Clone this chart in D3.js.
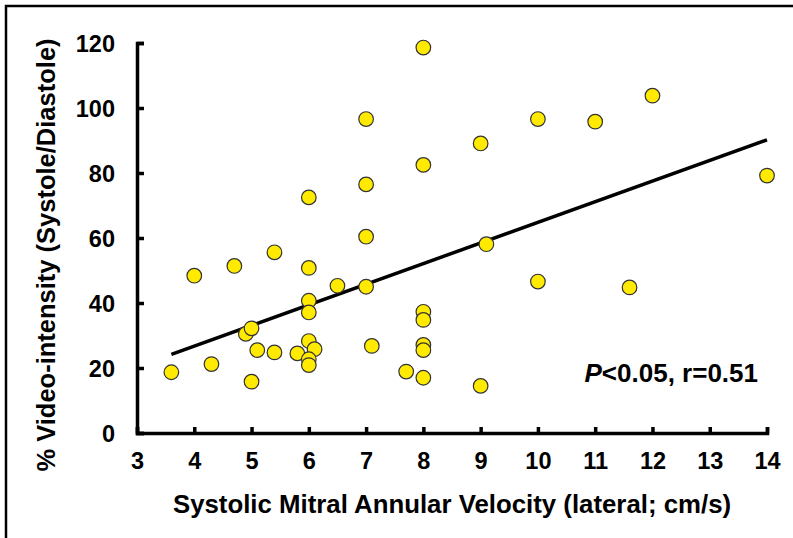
<!DOCTYPE html>
<html>
<head>
<meta charset="utf-8">
<script src="https://cdn.jsdelivr.net/npm/d3@7"></script>
<style>
  body { margin: 0; background: #fff; }
  svg { display: block; font-family: "Liberation Sans", Arial, sans-serif; }
</style>
</head>
<body>
<svg id="chart" width="793" height="538"></svg>
<script>
// velocity (cm/s) vs % video-intensity
var velocity = [3.6, 4.0, 4.3, 4.7, 4.9, 5.0, 5.0, 5.1, 5.4, 5.4, 5.8,
  6.0, 6.0, 6.0, 6.0, 6.0, 6.1, 6.0, 6.0, 6.5,
  7.0, 7.0, 7.0, 7.0, 7.1, 7.7,
  8.0, 8.0, 8.0, 8.0, 8.0, 8.0, 8.0,
  9.0, 9.1, 9.0, 10.0, 10.0, 11.0, 11.6, 12.0, 14.0];
var intensity = [18.7, 48.4, 21.2, 51.4, 30.5, 32.2, 15.8, 25.5, 55.6, 24.8, 24.5,
  72.5, 50.8, 40.7, 37.1, 28.3, 25.8, 22.7, 20.9, 45.3,
  96.6, 76.5, 60.4, 45.0, 26.8, 18.9,
  118.6, 82.5, 37.3, 34.8, 27.1, 25.5, 17.0,
  89.1, 58.1, 14.5, 96.6, 46.6, 95.8, 44.8, 103.8, 79.2];

// regression line ends
var fitX = [3.6, 14];
var fitY = [24.2, 90.2];

var xTicks = [3, 4, 5, 6, 7, 8, 9, 10, 11, 12, 13, 14];
var yTicks = [0, 20, 40, 60, 80, 100, 120];

var svg = d3.select("#chart");

// frame (only top and left edges visible in the figure)
svg.append("path")
    .attr("d", "M6,538V6H793")
    .attr("fill", "none")
    .attr("stroke", "#000")
    .attr("stroke-width", 2.5);

var x = d3.scaleLinear().domain([3, 14]).range([137, 767]);
var y = d3.scaleLinear().domain([0, 120]).range([433, 43]);

var xAxis = svg.append("g")
    .attr("transform", "translate(0,433)")
    .call(d3.axisBottom(x).tickValues(xTicks).tickSizeInner(-6).tickSizeOuter(-6).tickPadding(20));

var yAxis = svg.append("g")
    .attr("transform", "translate(137,0)")
    .call(d3.axisLeft(y).tickValues(yTicks).tickSizeInner(-7).tickSizeOuter(-7).tickPadding(22));

[xAxis, yAxis].forEach(function(g){
  g.attr("font-family", null).attr("font-size", null);
  g.select(".domain").attr("stroke", "#000").attr("stroke-width", 3.5);
  g.selectAll(".tick line").attr("stroke", "#000").attr("stroke-width", 3.5);
  g.selectAll(".tick text")
    .attr("fill", "#000")
    .style("font-size", "23.5px")
    .style("font-weight", "bold");
});
xAxis.selectAll(".tick text").attr("y", 19).attr("dy", "0.71em");
yAxis.selectAll(".tick text").attr("dy", "0.36em");

// fit line
svg.append("line")
    .attr("x1", x(fitX[0])).attr("y1", y(fitY[0]))
    .attr("x2", x(fitX[1])).attr("y2", y(fitY[1]))
    .attr("stroke", "#000")
    .attr("stroke-width", 3.5);

// points
svg.append("g")
  .selectAll("circle")
    .data(velocity.map(function(v, i){ return {x: v, y: intensity[i]}; }))
  .enter().append("circle")
    .attr("cx", function(d){ return x(d.x); })
    .attr("cy", function(d){ return y(d.y); })
    .attr("r", 7.3)
    .attr("fill", "#FFEA00")
    .attr("stroke", "#333")
    .attr("stroke-width", 1.2);

// axis titles
svg.append("text")
    .attr("x", 452)
    .attr("y", 513)
    .attr("text-anchor", "middle")
    .style("font-size", "25.8px")
    .style("font-weight", "bold")
    .text("Systolic Mitral Annular Velocity (lateral; cm/s)");

svg.append("text")
    .attr("transform", "translate(55,255) rotate(-90)")
    .attr("text-anchor", "middle")
    .style("font-size", "25.5px")
    .style("font-weight", "bold")
    .text("% Video-intensity (Systole/Diastole)");

// stats
var stat = svg.append("text")
    .attr("x", 758)
    .attr("y", 382)
    .attr("text-anchor", "end")
    .style("font-size", "26px")
    .style("font-weight", "bold");
stat.append("tspan").style("font-style", "italic").text("P");
stat.append("tspan").text("<0.05, r=0.51");
</script>
</body>
</html>
